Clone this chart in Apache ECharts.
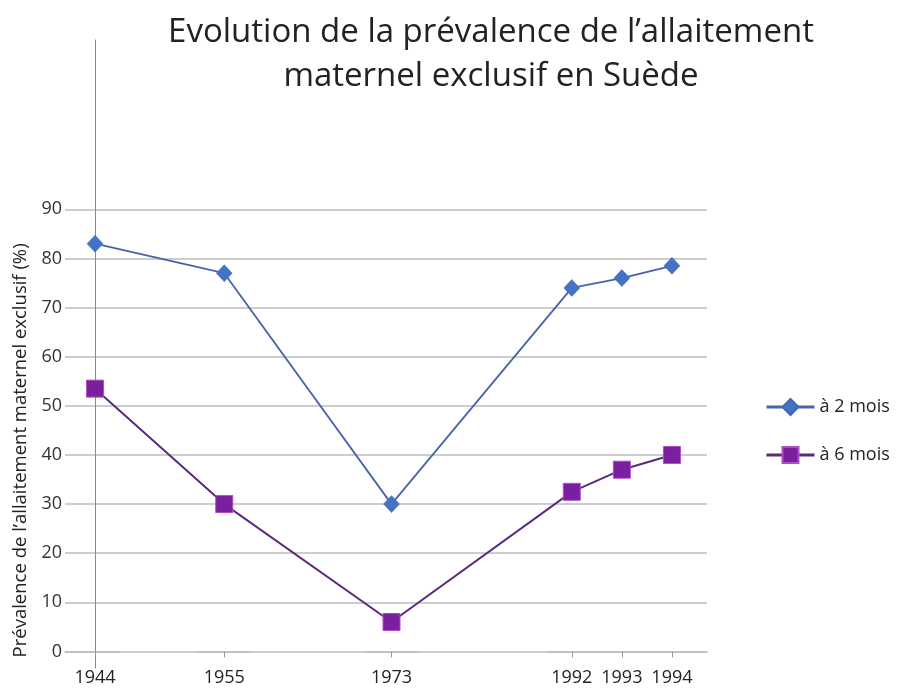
<!DOCTYPE html>
<html>
<head>
<meta charset="utf-8">
<script src="https://cdn.jsdelivr.net/npm/echarts@6/dist/echarts.min.js"></script>
<style>html,body{margin:0;padding:0;background:#fff;}#c{width:898px;height:688px;}</style>
</head>
<body>
<div id="c"></div>
<script>
const titleText = "Evolution de la prévalence de l\u2019allaitement\nmaternel exclusif en Suède";
const yAxisTitle = "Prévalence de l\u2019allaitement maternel exclusif (%)";
const years = [1944, 1955, 1973, 1992, 1993, 1994];
const seriesNames = ["à 2 mois", "à 6 mois"];
const twoMonths = [83, 77, 30, 74, 76, 78.5];
const sixMonths = [53.5, 30, 6, 32.5, 37, 40];

const FONT = "Open Sans";
const chart = echarts.init(document.getElementById('c'), null, {renderer: 'canvas'});

const option = {
  backgroundColor: '#fff',
  animation: false,
  title: {
    text: titleText,
    left: 486, top: 6, textAlign: 'center',
    textStyle: {fontFamily: FONT, fontSize: 33, fontWeight: 'normal', color: '#222', lineHeight: 44}
  },
  legend: {
    orient: 'vertical', left: 760, top: 393, itemGap: 30,
    itemWidth: 48, itemHeight: 20,
    textStyle: {fontFamily: FONT, fontSize: 18, color: '#222'},
    lineStyle: {width: 3},
    data: seriesNames
  },
  grid: [
    {left: 65, right: 191, top: 209.3, bottom: 36.5},
    {left: 95.5, width: 1, top: 40, bottom: 20}
  ],
  xAxis: [
    {
      type: 'value', gridIndex: 0, min: 1943.4, max: 1994.7,
      breaks: [
        {start: 1944.5, end: 1954.5, gap: 1.58},
        {start: 1955.5, end: 1972.5, gap: 2.34},
        {start: 1973.5, end: 1991.5, gap: 2.6}
      ],
      breakArea: {show: false},
      axisLine: {show: true, lineStyle: {color: '#bdbdbd', width: 1.5}},
      axisTick: {show: true, customValues: years, length: 6, lineStyle: {color: '#999', width: 1}},
      axisLabel: {customValues: years, fontFamily: FONT, fontSize: 18, color: '#222', margin: 17,
                  formatter: v => String(v)},
      splitLine: {show: false}
    },
    {type: 'value', gridIndex: 1, show: false}
  ],
  yAxis: [
    {
      type: 'value', gridIndex: 0, min: 0, max: 90, interval: 10,
      name: yAxisTitle, nameLocation: 'middle', nameRotate: 90, nameGap: 35,
      nameTextStyle: {fontFamily: FONT, fontSize: 18.5, color: '#222', padding: [0, 40, 0, 0]},
      axisLine: {show: false},
      axisTick: {show: false},
      axisLabel: {fontFamily: FONT, fontSize: 18, color: '#333', margin: 3},
      splitLine: {show: true, lineStyle: {color: '#bdbdbd', width: 1.5}}
    },
    {
      type: 'value', gridIndex: 1, min: 0, max: 1,
      axisLine: {show: true, lineStyle: {color: '#888', width: 1}},
      axisTick: {show: false}, axisLabel: {show: false}, splitLine: {show: false}
    }
  ],
  series: [
    {
      name: seriesNames[0], type: 'line', xAxisIndex: 0, yAxisIndex: 0,
      data: years.map((y, i) => [y, twoMonths[i]]),
      symbol: 'diamond', symbolSize: [16, 17],
      lineStyle: {color: '#4a62aa', width: 1.8},
      itemStyle: {color: '#4472c4', borderColor: '#3f66b8', borderWidth: 0.5},
      z: 3
    },
    {
      name: seriesNames[1], type: 'line', xAxisIndex: 0, yAxisIndex: 0,
      data: years.map((y, i) => [y, sixMonths[i]]),
      symbol: 'rect', symbolSize: 17,
      lineStyle: {color: '#5a2a80', width: 2},
      itemStyle: {color: '#7a1f9e', borderColor: '#b04cc8', borderWidth: 1},
      z: 4
    }
  ]
};
chart.setOption(option);
</script>
</body>
</html>
